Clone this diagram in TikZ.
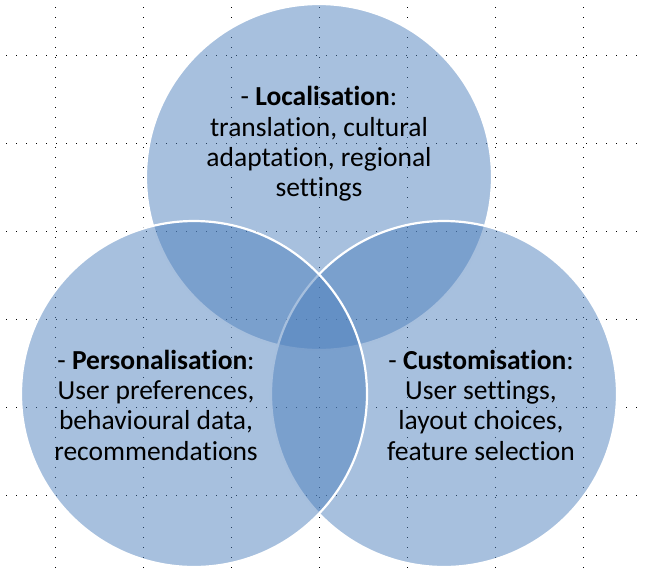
\documentclass[tikz,border=0pt]{standalone}
\usepackage{fontspec}
\setmainfont{Carlito}[Ligatures={NoCommon}]
\definecolor{vennblue}{HTML}{4F81BD}

\begin{document}
\begin{tikzpicture}[x=1pt,y=-1pt,every node/.style={font=\fontsize{27.5}{30.3}\selectfont,align=center},
		venn/.style={circle,minimum size=346pt,inner sep=0pt,fill=vennblue,fill opacity=.5,draw=white,draw opacity=1,line width=2.2pt},
		gridline/.style={black,line width=.8pt,dash pattern=on .8pt off 9.2pt}]
		\useasboundingbox (0,0) rectangle (648,574);
		% dotted guides
		\foreach \gx in {55,143,...,583} \draw[gridline] (\gx,7) -- (\gx,574);
		\foreach \gy in {55,143,...,495} \draw[gridline] (6,\gy) -- (642,\gy);
		% circles
		\node[venn] (loc) at (319,177) {};
		\node[venn] (cust) at (444,394) {};
		\node[venn] (pers) at (194,394) {};
		% labels
		\node (loctext) at (319,144) {- \textbf{Localisation}:\\translation, cultural\\adaptation, regional\\settings};
		\node (perstext) at (156,405) {- \textbf{Personalisation}:\\User preferences,\\behavioural data,\\recommendations};
		\node (custtext) at (481,405) {- \textbf{Customisation}:\\User settings,\\layout choices,\\feature selection};
	\end{tikzpicture}
\end{document}
